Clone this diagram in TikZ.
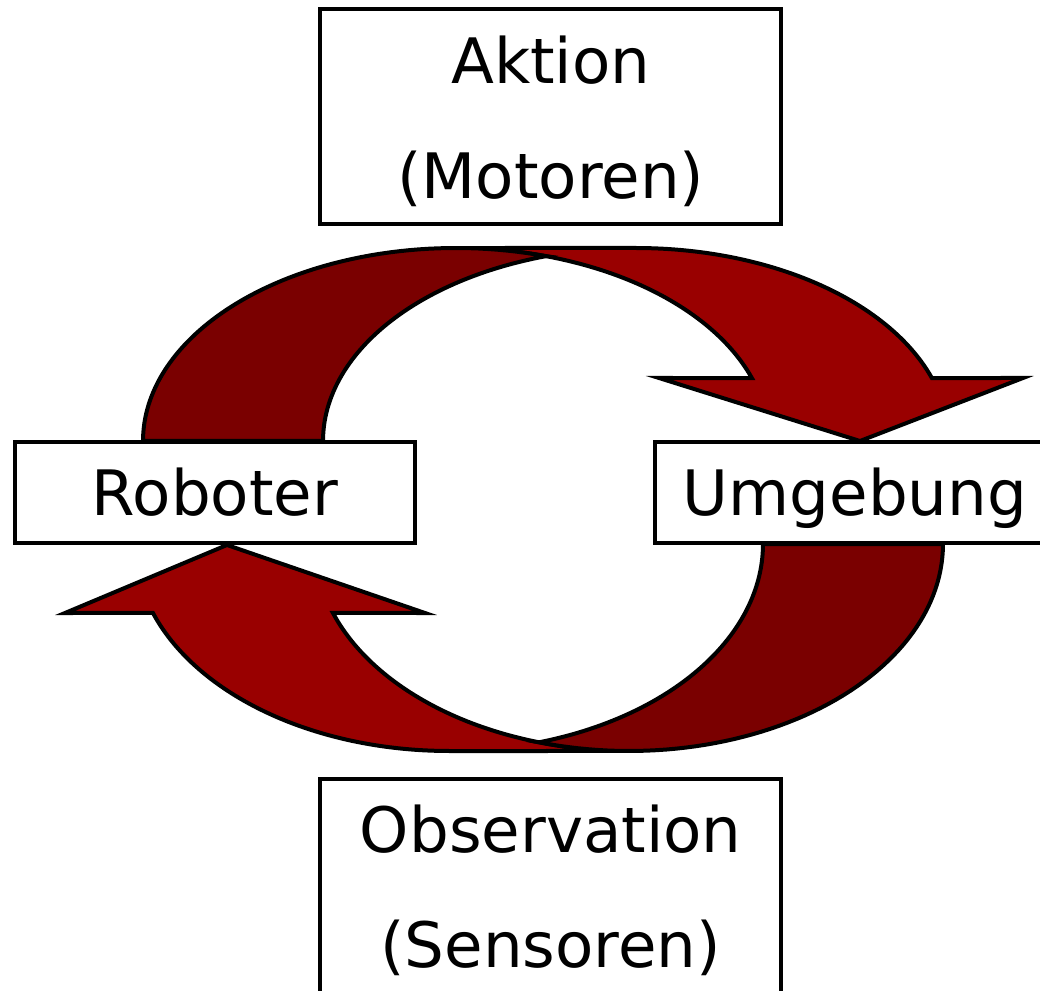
\documentclass[tikz,border=0pt]{standalone}
\usepackage{fontspec}
\setmainfont{DejaVu Sans}
\definecolor{arrowfront}{RGB}{153,0,0}
\definecolor{arrowback}{RGB}{122,0,0}
\begin{document}
\begin{tikzpicture}[x=0.75pt,y=-0.75pt,
  box/.style={draw=black, fill=white, line width=3pt, inner sep=0pt, align=center,
              font=\fontsize{47pt}{86pt}\selectfont},
  tallbox/.style={box, minimum width=346pt, minimum height=161.25pt, text depth=0pt},
  widebox/.style={box, minimum width=300pt, minimum height=76pt, text height=35.6pt, text depth=0pt},
  band/.style={draw=black, line width=3pt, line join=miter}]
\useasboundingbox (0,0) rectangle (1040,991);

% upper loop arrow: front ribbon with head, then the shaded back ribbon
\filldraw[band, fill=arrowfront]
  plot[domain=19.05:90, samples=60, variable=\t] ({456+313*cos(\t)},{441-193*sin(\t)})
  -- plot[domain=90:19.05, samples=60, variable=\t] ({636+313*cos(\t)},{441-193*sin(\t)})
  -- (1023,378) -- (860,441) -- (659,378) -- cycle;
\filldraw[band, fill=arrowback]
  plot[domain=180:73.29, samples=60, variable=\t] ({456+313*cos(\t)},{441-193*sin(\t)})
  -- plot[domain=106.71:180, samples=60, variable=\t] ({636+313*cos(\t)},{441-193*sin(\t)})
  -- cycle;

% lower loop arrow
\filldraw[band, fill=arrowfront]
  plot[domain=160.53:90, samples=60, variable=\t] ({629+314*cos(\t)},{544+207*sin(\t)})
  -- plot[domain=90:160.53, samples=60, variable=\t] ({449+314*cos(\t)},{544+207*sin(\t)})
  -- (65,613) -- (227,545) -- (425,613) -- cycle;
\filldraw[band, fill=arrowback]
  plot[domain=0:106.66, samples=60, variable=\t] ({629+314*cos(\t)},{544+207*sin(\t)})
  -- plot[domain=73.34:0, samples=60, variable=\t] ({449+314*cos(\t)},{544+207*sin(\t)})
  -- cycle;

% labelled boxes
\node[tallbox] (aktion) at (550.75,117) {Aktion\\(Motoren)};
\node[tallbox] (observation) at (550.75,886.5) {Observation\\(Sensoren)};
\node[widebox] (roboter) at (215,492.25) {Roboter};
\node[widebox] (umgebung) at (855,492.25) {Umgebung};
\end{tikzpicture}
\end{document}
